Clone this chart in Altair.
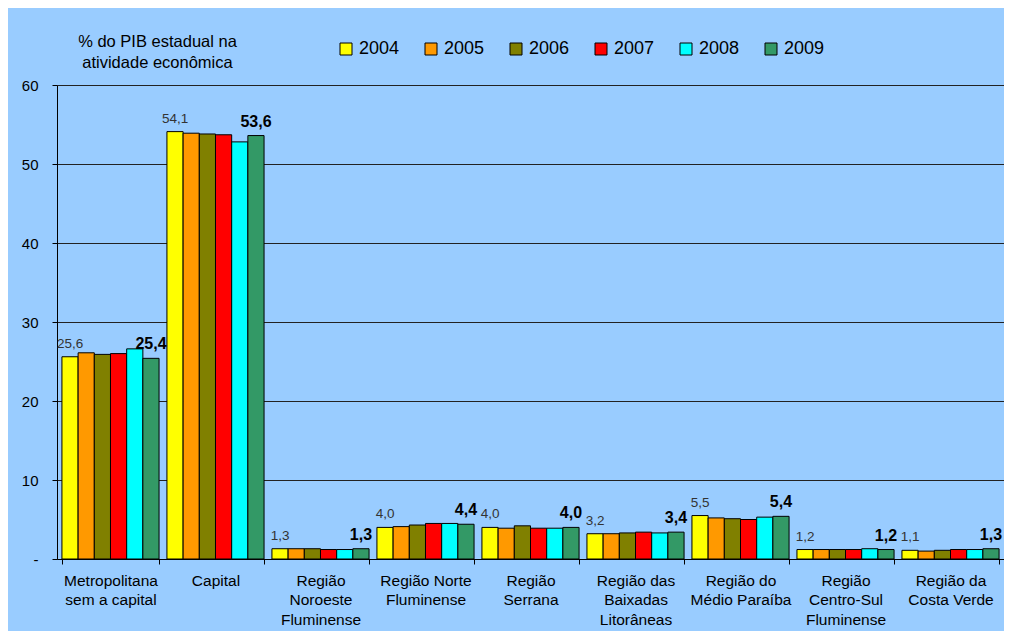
import altair as alt
import pandas as pd

categories = [
    "Metropolitana\nsem a capital",
    "Capital",
    "Região\nNoroeste\nFluminense",
    "Região Norte\nFluminense",
    "Região\nSerrana",
    "Região das\nBaixadas\nLitorâneas",
    "Região do\nMédio Paraíba",
    "Região\nCentro-Sul\nFluminense",
    "Região da\nCosta Verde",
]
years = ["2004", "2005", "2006", "2007", "2008", "2009"]
colors = ["#FFFF00", "#FF9900", "#808000", "#FF0000", "#00FFFF", "#339966"]

v2004 = [25.6, 54.1, 1.3, 4.0, 4.0, 3.2, 5.5, 1.2, 1.1]
v2005 = [26.1, 53.9, 1.3, 4.1, 3.9, 3.2, 5.2, 1.2, 1.0]
v2006 = [25.9, 53.8, 1.3, 4.3, 4.2, 3.3, 5.1, 1.2, 1.1]
v2007 = [26.0, 53.7, 1.2, 4.5, 3.9, 3.4, 5.0, 1.2, 1.2]
v2008 = [26.6, 52.8, 1.2, 4.5, 3.9, 3.3, 5.3, 1.3, 1.2]
v2009 = [25.4, 53.6, 1.3, 4.4, 4.0, 3.4, 5.4, 1.2, 1.3]

series = [v2004, v2005, v2006, v2007, v2008, v2009]
rows = []
for y, vals in zip(years, series):
    for c, v in zip(categories, vals):
        rows.append({"category": c, "year": y, "value": v,
                     "label": f"{v:.1f}".replace(".", ",")})
df = pd.DataFrame(rows)

FONT = "Liberation Sans"

x_enc = alt.X(
    "category:N", sort=categories,
    scale=alt.Scale(paddingInner=0.075, paddingOuter=0.047),
    axis=alt.Axis(
        title=None,
        labelExpr="datum.value ? split(datum.value, '\\n') : ''",
        labelAngle=0,
        tickBand="extent", tickSize=5, tickColor="black", domainColor="black",
        labelFontSize=15.5, labelLineHeight=19.5, labelPadding=9,
        labelColor="black", labelFont=FONT, labelLimit=300,
    ),
)
xoff_enc = alt.XOffset("year:N", sort=years,
                       scale=alt.Scale(paddingInner=0, paddingOuter=0))
y_enc = alt.Y(
    "value:Q",
    scale=alt.Scale(domain=[0, 60], nice=False),
    axis=alt.Axis(
        values=[0, 10, 20, 30, 40, 50, 60],
        labelExpr="datum.value == 0 ? '-' : datum.label",
        title=["% do PIB estadual na", "atividade econômica"],
        titleAngle=0, titleAlign="center", titleBaseline="top",
        titleX=100, titleY=-52, titleFontSize=16.5, titleFontWeight="normal",
        titleLineHeight=21, titleColor="black", titleFont=FONT,
        labelFontSize=15, labelColor="black", labelFont=FONT, labelPadding=14,
        tickSize=5, tickColor="black", domainColor="black",
        grid=True, gridColor="#222222", gridWidth=1,
    ),
)

base = alt.Chart(df)

bars = base.mark_bar(stroke="black", strokeWidth=1).encode(
    x=x_enc,
    xOffset=xoff_enc,
    y=y_enc,
    color=alt.Color(
        "year:N",
        scale=alt.Scale(domain=years, range=colors),
        legend=alt.Legend(
            title=None, orient="none", legendX=280, legendY=-45,
            direction="horizontal", symbolType="square", symbolSize=144,
            symbolStrokeColor="black", symbolStrokeWidth=1,
            symbolOpacity=1, labelFontSize=18, labelFont=FONT,
            labelColor="black", labelOffset=4, columnPadding=22, padding=0,
        ),
    ),
)

lab_first = base.transform_filter(alt.datum.year == "2004").mark_text(
    baseline="alphabetic", dy=-9, fontSize=13.5, color="#333333", font=FONT
).encode(x=alt.X("category:N", sort=categories), xOffset=alt.XOffset("year:N", sort=years),
         y="value:Q", text="label:N")

lab_last = base.transform_filter(alt.datum.year == "2009").mark_text(
    baseline="alphabetic", dy=-9, fontSize=16, fontWeight="bold", color="black", font=FONT
).encode(x=alt.X("category:N", sort=categories), xOffset=alt.XOffset("year:N", sort=years),
         y="value:Q", text="label:N")

chart = alt.layer(bars, lab_first, lab_last).properties(
    width=947, height=474,
    padding={"left": 49, "top": 77, "right": 0, "bottom": 72},
    autosize=alt.AutoSizeParams(type="none"),
    background="#99CCFF",
).configure_view(stroke=None)

chart.save("out.html", embed_options={"renderer": "svg", "actions": False})
